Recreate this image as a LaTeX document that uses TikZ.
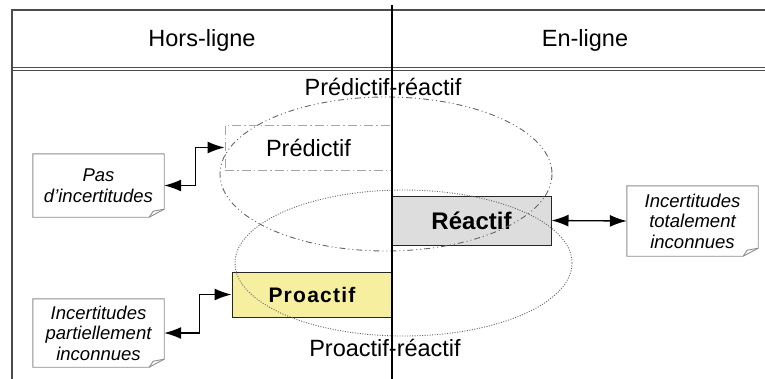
\documentclass[tikz,border=0pt]{standalone}
\usepackage{fontspec}
\setmainfont{Liberation Sans}
\usepackage{xcolor}
\usetikzlibrary{arrows.meta, positioning}
\definecolor{proyellow}{RGB}{246,239,160}
\definecolor{reagray}{RGB}{221,221,221}

\begin{document}
\begin{tikzpicture}[x=1pt, y=-1pt,
  frame/.style={draw=black!70, line width=1.3pt},
  lbl/.style={font=\fontsize{23.5}{26}\selectfont},
  algo/.style={draw=black!85, line width=1pt, minimum width=159pt, minimum height=46pt, inner sep=0pt},
  note/.style={minimum width=131pt, inner sep=0pt, align=center, font=\itshape\fontsize{18.5}{20.5}\selectfont},
  link/.style={{Latex[length=17pt,width=12pt]}-{Latex[length=17pt,width=12pt]}, line width=1.3pt}]
\useasboundingbox (0,0) rectangle (765,378);
\clip (0,0) rectangle (765,378);
% table
\draw[frame] (12,380) -- (12,10) -- (770,10);
\draw[frame, line width=0.9pt] (12,67.5) -- (770,67.5);
\draw[frame] (12,380) -- (12,70.5) -- (770,70.5);
\node[lbl] (hors) at (202,40) {Hors-ligne};
\node[lbl] (en) at (585,40) {En-ligne};
% algorithms
\node[algo, draw=black!35, dash pattern=on 9pt off 3pt on 1.5pt off 3pt, minimum width=167pt, minimum height=45pt, font=\fontsize{23.5}{26}\selectfont] (pred) at (308.5,147.5) {Pr\'edictif};
\node[algo, fill=reagray, minimum height=49pt, font=\bfseries\fontsize{24}{26}\selectfont] (rea) at (471.5,220.5) {R\'eactif};
\node[algo, fill=proyellow, minimum width=160pt, minimum height=45pt, font=\bfseries\fontsize{21}{24}\selectfont] (pro) at (312,294.5) {\addfontfeature{LetterSpace=6}Proactif};
% families
\draw[black!60, line width=0.9pt, dash pattern=on 6pt off 3pt on 1pt off 3pt on 1pt off 3pt] (386,174) ellipse [x radius=166, y radius=77];
\draw[black!60, line width=0.9pt, dash pattern=on 1pt off 1.5pt] (403.5,263) ellipse [x radius=168.5, y radius=73];
\node[lbl] (predrea) at (383,87) {Pr\'edictif-r\'eactif};
\node[lbl] (prorea) at (385,348) {Proactif-r\'eactif};
\draw[black, line width=1.5pt] (392,5) -- (392,380);
% uncertainties
\node[note, minimum height=63pt] (pas) at (98.5,185.5) {Pas\\d'incertitudes};
\node[note, minimum height=68pt] (part) at (98.5,333) {Incertitudes\\partiellement\\inconnues};
\node[note, minimum height=70pt] (tot) at (692.5,221) {Incertitudes\\totalement\\inconnues};
\foreach \n in {pas, part, tot}{
  \draw[black!45, line width=0.9pt] (\n.north west) -- (\n.north east) -- ([yshift=8pt]\n.south east)
    -- ([xshift=-15pt]\n.south east) -- (\n.south west) -- cycle;
  \draw[black!45, line width=0.9pt] ([yshift=8pt]\n.south east) -- ([xshift=-11pt,yshift=6pt]\n.south east)
    -- ([xshift=-15pt]\n.south east);
}
\draw[link] (pas.east) -- ++(31,0) |- (pred.west);
\draw[link] (part.east) -- ++(35,0) |- (pro.west);
\draw[link] (rea.east) -- (tot.west);
\end{tikzpicture}
\end{document}
